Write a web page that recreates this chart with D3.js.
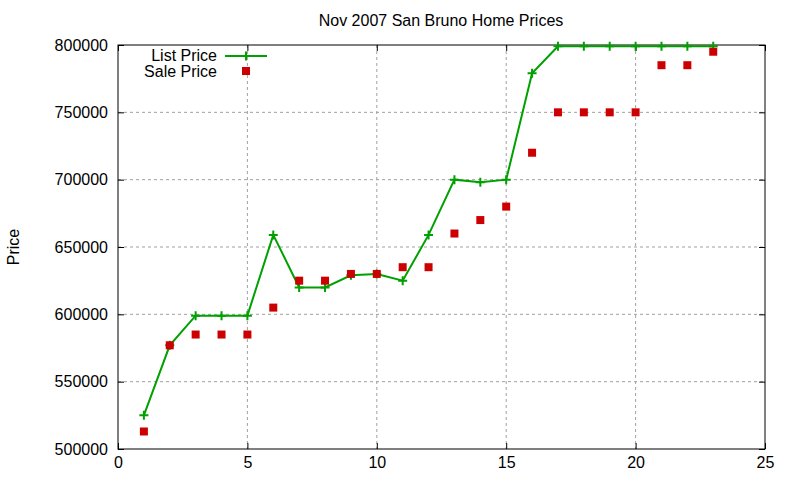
<!DOCTYPE html>
<html>
<head>
<meta charset="utf-8">
<script src="https://cdn.jsdelivr.net/npm/d3@7"></script>
<style>
  body { margin: 0; background: #fff; }
  text { font-family: "Liberation Sans", Arial, sans-serif; font-size: 16px; fill: #000; }
  .grid line { stroke: #a0a0a0; stroke-dasharray: 3,3; }
</style>
</head>
<body>
<script>
// data
var days = [1,2,3,4,5,6,7,8,9,10,11,12,13,14,15,16,17,18,19,20,21,22,23];
var listPrice = [525000,577000,599000,599000,599000,659000,620000,620000,629000,630000,625000,659000,
                 700000,698000,700000,779000,799000,799000,799000,799000,799000,799000,799000];
var salePrice = [513000,577000,585000,585000,585000,605000,625000,625000,630000,630000,635000,635000,
                 660000,670000,680000,720000,750000,750000,750000,750000,785000,785000,795000];
var xTicks = [0,5,10,15,20,25];
var yTicks = [500000,550000,600000,650000,700000,750000,800000];

var width = 800, height = 480;
var margin = {left:118, right:35, top:45, bottom:31};
var w = width - margin.left - margin.right;
var h = height - margin.top - margin.bottom;

var x = d3.scaleLinear().domain([0,25]).range([0,w]);
var y = d3.scaleLinear().domain([500000,800000]).range([h,0]);

var svg = d3.select("body").append("svg").attr("width",width).attr("height",height);
var g = svg.append("g").attr("transform","translate("+margin.left+","+margin.top+")");

// grid
g.append("g").attr("class","grid")
  .selectAll("line").data(xTicks.slice(1,-1)).enter().append("line")
  .attr("x1",function(d){ return x(d); }).attr("x2",function(d){ return x(d); })
  .attr("y1",0).attr("y2",h);
g.append("g").attr("class","grid")
  .selectAll("line").data(yTicks.slice(1,-1)).enter().append("line")
  .attr("y1",function(d){ return y(d); }).attr("y2",function(d){ return y(d); })
  .attr("x1",0).attr("x2",w);

// axes with mirrored inner ticks
function styleAxis(sel){
  sel.select(".domain").remove();
  sel.selectAll("line").attr("stroke","#000");
  sel.selectAll("text").style("font-size","16px").attr("fill","#000")
     .style("font-family","Liberation Sans, Arial, sans-serif");
}
var fmt = d3.format("d");
g.append("g").attr("transform","translate(0,"+h+")")
  .call(d3.axisBottom(x).tickValues(xTicks).tickFormat(fmt).tickSizeInner(-6).tickSizeOuter(0).tickPadding(8))
  .call(styleAxis);
g.append("g")
  .call(d3.axisTop(x).tickValues(xTicks).tickSizeInner(-6).tickSizeOuter(0).tickFormat(""))
  .call(styleAxis);
g.append("g")
  .call(d3.axisLeft(y).tickValues(yTicks).tickFormat(fmt).tickSizeInner(-6).tickSizeOuter(0).tickPadding(10))
  .call(styleAxis);
g.append("g").attr("transform","translate("+w+",0)")
  .call(d3.axisRight(y).tickValues(yTicks).tickSizeInner(-6).tickSizeOuter(0).tickFormat(""))
  .call(styleAxis);

g.append("rect").attr("width",w).attr("height",h)
  .attr("fill","none").attr("stroke","#000").attr("stroke-width",1);

// list price line
var line = d3.line()
  .x(function(d,i){ return x(days[i]); })
  .y(function(d){ return y(d); });
g.append("path").attr("d",line(listPrice))
  .attr("fill","none").attr("stroke","#00a000").attr("stroke-width",2);

function plus(sel, cx, cy){
  sel.append("path").attr("d","M"+(cx-4.5)+","+cy+"h9M"+cx+","+(cy-4.5)+"v9")
    .attr("stroke","#00a000").attr("stroke-width",2);
}
listPrice.forEach(function(d,i){ plus(g, x(days[i]), y(d)); });

// sale price squares
g.selectAll(".sale").data(salePrice).enter().append("rect")
  .attr("class","sale")
  .attr("x",function(d,i){ return x(days[i])-4; })
  .attr("y",function(d){ return y(d)-4; })
  .attr("width",8).attr("height",8)
  .attr("fill","#cc0000");

// legend
var leg = svg.append("g");
leg.append("text").attr("x",217).attr("y",55).attr("dy","0.35em").attr("text-anchor","end").text("List Price");
leg.append("path").attr("d","M225,56h42").attr("stroke","#00a000").attr("stroke-width",2);
plus(leg, 246, 56);
leg.append("text").attr("x",217).attr("y",71).attr("dy","0.35em").attr("text-anchor","end").text("Sale Price");
leg.append("rect").attr("x",242).attr("y",67).attr("width",8).attr("height",8).attr("fill","#cc0000");

// titles
svg.append("text").attr("x",441).attr("y",20).attr("dy","0.35em").attr("text-anchor","middle")
  .text("Nov 2007 San Bruno Home Prices");
svg.append("text").attr("transform","translate(13,247) rotate(-90)").attr("dy","0.35em")
  .attr("text-anchor","middle").text("Price");
</script>
</body>
</html>
